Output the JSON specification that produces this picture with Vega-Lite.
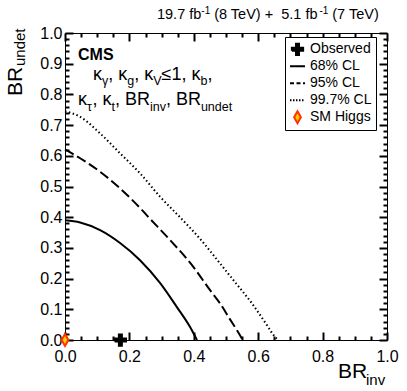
{
  "$schema": "https://vega.github.io/schema/vega-lite/v6.json",
  "width": 322,
  "height": 307,
  "autosize": {"type": "none"},
  "padding": {"left": 65, "top": 33, "right": 20, "bottom": 51},
  "background": "white",
  "config": {
    "font": "Liberation Sans",
    "view": {"stroke": "black", "strokeWidth": 1},
    "axis": {"grid": false, "domain": false, "labelColor": "black", "title": null, "tickOpacity": 1},
    "text": {"align": "left", "baseline": "alphabetic", "fontSize": 18, "color": "black"}
  },
  "resolve": {"axis": {"x": "independent", "y": "independent"}},
  "datasets": {
    "cl68": [{"x":0,"y":0.39},{"x":0.047,"y":0.383},{"x":0.109,"y":0.358},{"x":0.171,"y":0.316},{"x":0.233,"y":0.26},{"x":0.295,"y":0.186},{"x":0.347,"y":0.108},{"x":0.388,"y":0.043},{"x":0.401,"y":0.018},{"x":0.41,"y":0}],
    "cl95": [{"x":0,"y":0.621},{"x":0.047,"y":0.592},{"x":0.109,"y":0.548},{"x":0.171,"y":0.494},{"x":0.233,"y":0.43},{"x":0.264,"y":0.395},{"x":0.326,"y":0.326},{"x":0.398,"y":0.239},{"x":0.45,"y":0.163},{"x":0.481,"y":0.12},{"x":0.512,"y":0.068},{"x":0.535,"y":0.03},{"x":0.552,"y":0}],
    "cl997": [{"x":0,"y":0.745},{"x":0.047,"y":0.727},{"x":0.109,"y":0.673},{"x":0.171,"y":0.608},{"x":0.233,"y":0.543},{"x":0.295,"y":0.467},{"x":0.357,"y":0.4},{"x":0.419,"y":0.33},{"x":0.481,"y":0.25},{"x":0.523,"y":0.195},{"x":0.58,"y":0.12},{"x":0.626,"y":0.05},{"x":0.645,"y":0.02},{"x":0.661,"y":0}],
    "markers": [{"series":"Observed","x":0.172,"y":0},{"series":"SM Higgs","x":0,"y":0}]
  },
  "data": {"values": [{}]},
  "layer": [
    {
      "data": {"name": "cl68"},
      "mark": {"type": "line", "color": "black", "strokeWidth": 2, "interpolate": "monotone"},
      "encoding": {
        "x": {"field": "x", "type": "quantitative", "scale": {"domain": [0, 1], "nice": false, "zero": false},
              "axis": {"orient": "bottom", "values": [0, 0.2, 0.4, 0.6, 0.8, 1], "format": ".1f", "ticks": true, "tickSize": -8, "tickColor": "black", "tickWidth": 2, "labelPadding": 16, "labelFontSize": 16, "labelFlush": false, "labelOverlap": false}},
        "y": {"field": "y", "type": "quantitative", "scale": {"domain": [0, 1], "nice": false, "zero": false},
              "axis": {"orient": "left", "values": [0, 0.1, 0.2, 0.3, 0.4, 0.5, 0.6, 0.7, 0.8, 0.9, 1], "format": ".1f", "ticks": true, "tickSize": -8, "tickColor": "black", "tickWidth": 2, "labelPadding": 11, "labelFontSize": 16, "labelFlush": false, "labelOverlap": false}}
      }
    },
    {
      "data": {"name": "cl95"},
      "mark": {"type": "line", "color": "black", "strokeWidth": 2, "interpolate": "monotone", "strokeDash": [10, 4]},
      "encoding": {
        "x": {"field": "x", "type": "quantitative", "scale": {"domain": [0, 1], "nice": false, "zero": false},
              "axis": {"orient": "bottom", "values": [0.05, 0.1, 0.15, 0.25, 0.3, 0.35, 0.45, 0.5, 0.55, 0.65, 0.7, 0.75, 0.85, 0.9, 0.95], "labels": false, "ticks": true, "tickSize": -4, "tickColor": "black", "tickWidth": 2}},
        "y": {"field": "y", "type": "quantitative", "scale": {"domain": [0, 1], "nice": false, "zero": false},
              "axis": {"orient": "left", "values": [0.02,0.04,0.06,0.08,0.12,0.14,0.16,0.18,0.22,0.24,0.26,0.28,0.32,0.34,0.36,0.38,0.42,0.44,0.46,0.48,0.52,0.54,0.56,0.58,0.62,0.64,0.66,0.68,0.72,0.74,0.76,0.78,0.82,0.84,0.86,0.88,0.92,0.94,0.96,0.98], "labels": false, "ticks": true, "tickSize": -4, "tickColor": "black", "tickWidth": 2}}
      }
    },
    {
      "data": {"name": "cl997"},
      "mark": {"type": "line", "color": "black", "strokeWidth": 2, "interpolate": "monotone", "strokeDash": [1.5, 2.5]},
      "encoding": {
        "x": {"field": "x", "type": "quantitative", "scale": {"domain": [0, 1], "nice": false, "zero": false},
              "axis": {"orient": "top", "values": [0, 0.2, 0.4, 0.6, 0.8, 1], "labels": false, "ticks": true, "tickSize": -8, "tickColor": "black", "tickWidth": 2}},
        "y": {"field": "y", "type": "quantitative", "scale": {"domain": [0, 1], "nice": false, "zero": false},
              "axis": {"orient": "right", "values": [0, 0.1, 0.2, 0.3, 0.4, 0.5, 0.6, 0.7, 0.8, 0.9, 1], "labels": false, "ticks": true, "tickSize": -8, "tickColor": "black", "tickWidth": 2}}
      }
    },
    {
      "data": {"name": "markers"},
      "mark": {"type": "point", "filled": true, "size": 225, "strokeWidth": 2, "opacity": 1},
      "encoding": {
        "x": {"field": "x", "type": "quantitative", "scale": {"domain": [0, 1], "nice": false, "zero": false},
              "axis": {"orient": "top", "values": [0.05, 0.1, 0.15, 0.25, 0.3, 0.35, 0.45, 0.5, 0.55, 0.65, 0.7, 0.75, 0.85, 0.9, 0.95], "labels": false, "ticks": true, "tickSize": -4, "tickColor": "black", "tickWidth": 2}},
        "y": {"field": "y", "type": "quantitative", "scale": {"domain": [0, 1], "nice": false, "zero": false},
              "axis": {"orient": "right", "values": [0.02,0.04,0.06,0.08,0.12,0.14,0.16,0.18,0.22,0.24,0.26,0.28,0.32,0.34,0.36,0.38,0.42,0.44,0.46,0.48,0.52,0.54,0.56,0.58,0.62,0.64,0.66,0.68,0.72,0.74,0.76,0.78,0.82,0.84,0.86,0.88,0.92,0.94,0.96,0.98], "labels": false, "ticks": true, "tickSize": -4, "tickColor": "black", "tickWidth": 2}},
        "shape": {"field": "series", "type": "nominal",
          "scale": {"domain": ["Observed", "68% CL", "95% CL", "99.7% CL", "SM Higgs"],
                    "range": ["M-0.75,-0.2L-0.2,-0.2L-0.2,-0.75L0.2,-0.75L0.2,-0.2L0.75,-0.2L0.75,0.2L0.2,0.2L0.2,0.75L-0.2,0.75L-0.2,0.2L-0.75,0.2Z", "M-1,0L1,0", "M-1,0L1,0", "M-1,0L1,0", "M0,-0.8L0.45,0L0,0.8L-0.45,0Z"]},
          "legend": {"orient": "none", "legendX": 220, "legendY": 4, "title": null, "strokeColor": "black", "fillColor": "white", "padding": 4, "labelFontSize": 14, "labelColor": "black", "symbolSize": 225, "symbolStrokeWidth": 2, "symbolFillColor": "black", "symbolStrokeColor": "black", "symbolOpacity": 1, "clipHeight": 16.5, "rowPadding": 0, "labelOffset": 4}},
        "fill": {"field": "series", "type": "nominal",
          "scale": {"domain": ["Observed", "68% CL", "95% CL", "99.7% CL", "SM Higgs"], "range": ["black", "black", "black", "black", "#ffcc00"]},
          "legend": {"orient": "none", "legendX": 220, "legendY": 4, "title": null, "strokeColor": "black", "fillColor": "white", "padding": 4, "labelFontSize": 14, "labelColor": "black", "symbolSize": 225, "symbolStrokeWidth": 2, "symbolFillColor": "black", "symbolStrokeColor": "black", "symbolOpacity": 1, "clipHeight": 16.5, "rowPadding": 0, "labelOffset": 4}},
        "stroke": {"field": "series", "type": "nominal",
          "scale": {"domain": ["Observed", "68% CL", "95% CL", "99.7% CL", "SM Higgs"], "range": ["black", "black", "black", "black", "#ff3300"]},
          "legend": {"orient": "none", "legendX": 220, "legendY": 4, "title": null, "strokeColor": "black", "fillColor": "white", "padding": 4, "labelFontSize": 14, "labelColor": "black", "symbolSize": 225, "symbolStrokeWidth": 2, "symbolFillColor": "black", "symbolStrokeColor": "black", "symbolOpacity": 1, "clipHeight": 16.5, "rowPadding": 0, "labelOffset": 4}},
        "strokeDash": {"field": "series", "type": "nominal",
          "scale": {"domain": ["Observed", "68% CL", "95% CL", "99.7% CL", "SM Higgs"], "range": [[1, 0], [1, 0], [4, 2.5], [1.5, 1.5], [1, 0]]},
          "legend": {"orient": "none", "legendX": 220, "legendY": 4, "title": null, "strokeColor": "black", "fillColor": "white", "padding": 4, "labelFontSize": 14, "labelColor": "black", "symbolSize": 225, "symbolStrokeWidth": 2, "symbolFillColor": "black", "symbolStrokeColor": "black", "symbolOpacity": 1, "clipHeight": 16.5, "rowPadding": 0, "labelOffset": 4}}
      }
    },
    {"mark": {"type": "text", "text": "CMS", "fontSize": 16, "fontWeight": "bold"}, "encoding": {"x": {"datum": 0.0404, "type": "quantitative", "axis": null}, "y": {"datum": 0.912, "type": "quantitative", "axis": null}}},
    {"mark": {"type": "text", "text": "κ"}, "encoding": {"x": {"datum": 0.087, "type": "quantitative", "axis": null}, "y": {"datum": 0.8469, "type": "quantitative", "axis": null}}},
    {"mark": {"type": "text", "text": "γ", "fontSize": 12.5}, "encoding": {"x": {"datum": 0.1149, "type": "quantitative", "axis": null}, "y": {"datum": 0.8306, "type": "quantitative", "axis": null}}},
    {"mark": {"type": "text", "text": ", κ"}, "encoding": {"x": {"datum": 0.1343, "type": "quantitative", "axis": null}, "y": {"datum": 0.8469, "type": "quantitative", "axis": null}}},
    {"mark": {"type": "text", "text": "g", "fontSize": 12.5}, "encoding": {"x": {"datum": 0.1934, "type": "quantitative", "axis": null}, "y": {"datum": 0.8306, "type": "quantitative", "axis": null}}},
    {"mark": {"type": "text", "text": ", κ"}, "encoding": {"x": {"datum": 0.2149, "type": "quantitative", "axis": null}, "y": {"datum": 0.8469, "type": "quantitative", "axis": null}}},
    {"mark": {"type": "text", "text": "V", "fontSize": 12.5}, "encoding": {"x": {"datum": 0.2739, "type": "quantitative", "axis": null}, "y": {"datum": 0.8306, "type": "quantitative", "axis": null}}},
    {"mark": {"type": "text", "text": "≤1, κ"}, "encoding": {"x": {"datum": 0.3, "type": "quantitative", "axis": null}, "y": {"datum": 0.8469, "type": "quantitative", "axis": null}}},
    {"mark": {"type": "text", "text": "b", "fontSize": 12.5}, "encoding": {"x": {"datum": 0.4208, "type": "quantitative", "axis": null}, "y": {"datum": 0.8306, "type": "quantitative", "axis": null}}},
    {"mark": {"type": "text", "text": ","}, "encoding": {"x": {"datum": 0.4422, "type": "quantitative", "axis": null}, "y": {"datum": 0.8469, "type": "quantitative", "axis": null}}},
    {"mark": {"type": "text", "text": "κ"}, "encoding": {"x": {"datum": 0.0404, "type": "quantitative", "axis": null}, "y": {"datum": 0.7655, "type": "quantitative", "axis": null}}},
    {"mark": {"type": "text", "text": "τ", "fontSize": 12.5}, "encoding": {"x": {"datum": 0.0683, "type": "quantitative", "axis": null}, "y": {"datum": 0.7459, "type": "quantitative", "axis": null}}},
    {"mark": {"type": "text", "text": ", κ"}, "encoding": {"x": {"datum": 0.0851, "type": "quantitative", "axis": null}, "y": {"datum": 0.7655, "type": "quantitative", "axis": null}}},
    {"mark": {"type": "text", "text": "t", "fontSize": 12.5}, "encoding": {"x": {"datum": 0.1441, "type": "quantitative", "axis": null}, "y": {"datum": 0.7459, "type": "quantitative", "axis": null}}},
    {"mark": {"type": "text", "text": ", BR"}, "encoding": {"x": {"datum": 0.155, "type": "quantitative", "axis": null}, "y": {"datum": 0.7655, "type": "quantitative", "axis": null}}},
    {"mark": {"type": "text", "text": "inv", "fontSize": 12.5}, "encoding": {"x": {"datum": 0.2637, "type": "quantitative", "axis": null}, "y": {"datum": 0.7459, "type": "quantitative", "axis": null}}},
    {"mark": {"type": "text", "text": ", BR"}, "encoding": {"x": {"datum": 0.3134, "type": "quantitative", "axis": null}, "y": {"datum": 0.7655, "type": "quantitative", "axis": null}}},
    {"mark": {"type": "text", "text": "undet", "fontSize": 12.5}, "encoding": {"x": {"datum": 0.422, "type": "quantitative", "axis": null}, "y": {"datum": 0.7459, "type": "quantitative", "axis": null}}},
    {"mark": {"type": "text", "text": "19.7 fb", "fontSize": 14.5}, "encoding": {"x": {"datum": 0.2857, "type": "quantitative", "axis": null}, "y": {"datum": 1.0446, "type": "quantitative", "axis": null}}},
    {"mark": {"type": "text", "text": "-1", "fontSize": 10}, "encoding": {"x": {"datum": 0.4233, "type": "quantitative", "axis": null}, "y": {"datum": 1.0635, "type": "quantitative", "axis": null}}},
    {"mark": {"type": "text", "text": "(8 TeV) +\u00a0 5.1 fb", "fontSize": 14.5}, "encoding": {"x": {"datum": 0.4634, "type": "quantitative", "axis": null}, "y": {"datum": 1.0446, "type": "quantitative", "axis": null}}},
    {"mark": {"type": "text", "text": "-1", "fontSize": 10}, "encoding": {"x": {"datum": 0.7901, "type": "quantitative", "axis": null}, "y": {"datum": 1.0635, "type": "quantitative", "axis": null}}},
    {"mark": {"type": "text", "text": "(7 TeV)", "fontSize": 14.5}, "encoding": {"x": {"datum": 0.8301, "type": "quantitative", "axis": null}, "y": {"datum": 1.0446, "type": "quantitative", "axis": null}}},
    {"mark": {"type": "text", "text": "BR", "fontSize": 21}, "encoding": {"x": {"datum": 0.8478, "type": "quantitative", "axis": null}, "y": {"datum": -0.1238, "type": "quantitative", "axis": null}}},
    {"mark": {"type": "text", "text": "inv", "fontSize": 15}, "encoding": {"x": {"datum": 0.9348, "type": "quantitative", "axis": null}, "y": {"datum": -0.1466, "type": "quantitative", "axis": null}}},
    {"mark": {"type": "text", "text": "BR", "fontSize": 21, "angle": 270}, "encoding": {"x": {"datum": -0.1335, "type": "quantitative", "axis": null}, "y": {"datum": 0.7948, "type": "quantitative", "axis": null}}},
    {"mark": {"type": "text", "text": "undet", "fontSize": 15, "angle": 270}, "encoding": {"x": {"datum": -0.1242, "type": "quantitative", "axis": null}, "y": {"datum": 0.8925, "type": "quantitative", "axis": null}}}
  ]
}
